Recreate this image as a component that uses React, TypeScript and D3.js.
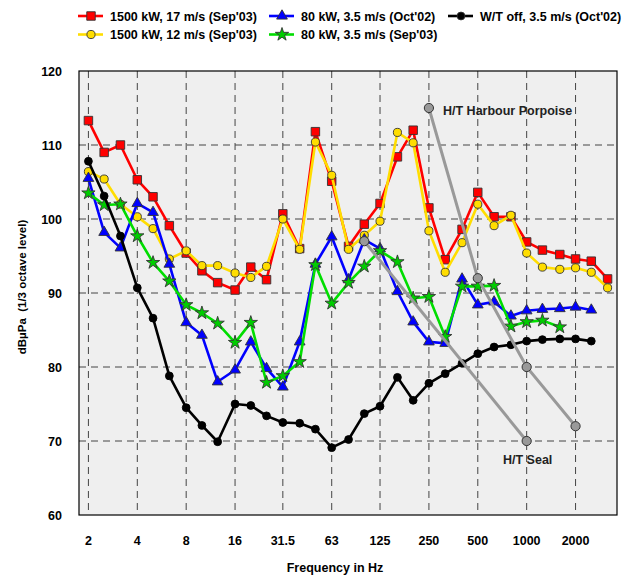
import React, { useRef, useEffect } from 'react';
import * as d3 from 'd3';

// 1/3 octave band centre frequencies (Hz)
const freqs = [2, 2.5, 3.15, 4, 5, 6.3, 8, 10, 12.5, 16, 20, 25, 31.5, 40, 50, 63, 80, 100, 125, 160, 200, 250, 315, 400, 500, 630, 800, 1000, 1250, 1600, 2000, 2500, 3150];
const tickFreqs = [2, 4, 8, 16, 31.5, 63, 125, 250, 500, 1000, 2000];
const yTicks = [60, 70, 80, 90, 100, 110, 120];

const red1500_17 = [113.3, 109.0, 110.0, 105.3, 103.0, 99.1, 95.4, 93.0, 91.4, 90.4, 93.5, 91.8, 100.7, 96.0, 111.8, 105.1, 96.3, 99.3, 102.1, 108.4, 112.0, 101.5, 94.5, 98.6, 103.6, 100.3, 100.3, 96.9, 95.8, 95.2, 94.6, 94.3, 91.9];
const yel1500_12 = [106.4, 105.4, 102.0, 100.3, 98.7, 94.6, 95.7, 93.7, 93.7, 92.7, 92.1, 93.6, 100.0, 95.9, 110.4, 105.9, 95.9, 97.8, 99.7, 111.7, 110.3, 98.4, 92.8, 96.8, 102.0, 99.1, 100.5, 95.4, 93.5, 93.2, 93.4, 92.8, 90.7];
const blue80_oct02 = [105.5, 98.2, 96.1, 102.1, 100.9, 93.9, 86.0, 84.3, 78.0, 79.6, 83.4, 79.8, 77.3, 83.4, 93.9, 97.6, 91.8, 97.2, 96.0, 90.2, 86.1, 83.4, 83.2, 91.9, 88.4, 88.8, 86.9, 87.6, 87.8, 87.9, 88.1, 87.7];
const green80_sep03 = [103.5, 101.9, 102.0, 97.7, 94.1, 91.6, 88.4, 87.3, 85.9, 83.3, 86.0, 77.9, 78.8, 80.7, 93.8, 88.6, 91.4, 93.6, 95.7, 94.2, 89.3, 89.5, 84.1, 90.9, 90.9, 91.0, 85.5, 86.1, 86.3, 85.4];
const blackOff = [107.8, 103.1, 97.7, 90.7, 86.6, 78.8, 74.5, 72.1, 69.9, 75.0, 74.8, 73.4, 72.5, 72.4, 71.6, 69.1, 70.2, 73.7, 74.7, 78.6, 75.5, 77.8, 79.1, 80.5, 81.8, 82.7, 83.0, 83.5, 83.7, 83.8, 83.8, 83.5];

const porpoiseFreqs = [250, 500, 1000, 2000];
const porpoiseVals = [115, 92, 80, 72];
const sealFreqs = [100, 1000];
const sealVals = [97, 70];

const series = [
  { name: "1500 kW, 17 m/s (Sep'03)", vals: red1500_17, color: '#ff0000', fill: '#ff0000', sym: 'square' },
  { name: "1500 kW, 12 m/s (Sep'03)", vals: yel1500_12, color: '#ffdd00', fill: '#ffdd00', sym: 'circle' },
  { name: "80 kW, 3.5 m/s (Oct'02)", vals: blue80_oct02, color: '#0000ff', fill: '#0000ff', sym: 'triangle' },
  { name: "80 kW, 3.5 m/s (Sep'03)", vals: green80_sep03, color: '#00dd00', fill: '#00cc00', sym: 'star' },
  { name: "W/T off, 3.5 m/s (Oct'02)", vals: blackOff, color: '#000000', fill: '#000000', sym: 'dot' },
];

const W = 633, H = 576;
const FONT = '"Liberation Sans", Arial, sans-serif';

const App: React.FC = () => {
  const svgRef = useRef<SVGSVGElement | null>(null);

  useEffect(() => {
    document.body.style.margin = '0';
    if (!svgRef.current) return;
    const svg = d3.select(svgRef.current);
    svg.selectAll('*').remove();

    const left = 79, right = 617, top = 71, bottom = 515;
    const x = d3.scaleLog().domain([1.75, 3600]).range([left, right]);
    const y = d3.scaleLinear().domain([60, 120]).range([bottom, top]);

    svg.append('rect').attr('width', W).attr('height', H).attr('fill', '#fff');
    svg.append('rect')
      .attr('x', left).attr('y', top).attr('width', right - left).attr('height', bottom - top)
      .attr('fill', '#efefef');

    // grid
    const grid = svg.append('g').attr('stroke', '#444').attr('stroke-width', 1).attr('stroke-dasharray', '7,5');
    grid.selectAll('.gv').data(tickFreqs).enter().append('line')
      .attr('x1', d => x(d)).attr('x2', d => x(d)).attr('y1', top).attr('y2', bottom);
    grid.selectAll('.gh').data(yTicks.slice(1, -1)).enter().append('line')
      .attr('x1', left).attr('x2', right).attr('y1', d => y(d)).attr('y2', d => y(d));

    svg.append('rect')
      .attr('x', left).attr('y', top).attr('width', right - left).attr('height', bottom - top)
      .attr('fill', 'none').attr('stroke', '#000').attr('stroke-width', 1.2);

    // axis labels
    svg.selectAll('.yl').data(yTicks).enter().append('text')
      .attr('x', 62).attr('y', d => y(d) + 4.5)
      .attr('text-anchor', 'end').attr('font-family', FONT).attr('font-weight', 'bold').attr('font-size', 12.5)
      .text(d => d);
    svg.selectAll('.xl').data(tickFreqs).enter().append('text')
      .attr('x', d => x(d)).attr('y', 545)
      .attr('text-anchor', 'middle').attr('font-family', FONT).attr('font-weight', 'bold').attr('font-size', 12.5)
      .text(d => String(d));
    svg.append('text').attr('x', 335).attr('y', 572)
      .attr('text-anchor', 'middle').attr('font-family', FONT).attr('font-weight', 'bold').attr('font-size', 12.5)
      .text('Frequency in Hz');
    svg.append('text').attr('transform', 'translate(26,287) rotate(-90)')
      .attr('text-anchor', 'middle').attr('font-family', FONT).attr('font-weight', 'bold').attr('font-size', 11.5)
      .style('white-space', 'pre')
      .text('dBµPa  (1/3 octave level)');

    const symGen = (sym: string) => {
      if (sym === 'square') return d3.symbol().type(d3.symbolSquare).size(72)();
      if (sym === 'triangle') return d3.symbol().type(d3.symbolTriangle).size(50)();
      if (sym === 'star') return d3.symbol().type(d3.symbolStar).size(55)();
      if (sym === 'circle') return d3.symbol().type(d3.symbolCircle).size(52)();
      return d3.symbol().type(d3.symbolCircle).size(48)();
    };

    const line = d3.line<number>().x((_, i) => x(freqs[i])).y(d => y(d));

    series.forEach(s => {
      const g = svg.append('g');
      g.append('path').attr('d', line(s.vals) as string)
        .attr('fill', 'none').attr('stroke', s.color).attr('stroke-width', 2.6).attr('stroke-linejoin', 'round');
      g.selectAll('path.m').data(s.vals).enter().append('path')
        .attr('class', 'm')
        .attr('d', symGen(s.sym) as string)
        .attr('transform', (d, i) => `translate(${x(freqs[i])},${y(d)})`)
        .attr('fill', s.fill)
        .attr('stroke', s.sym === 'dot' ? '#000' : '#333').attr('stroke-width', 0.9);
    });

    // hearing thresholds
    const thr = [
      { f: porpoiseFreqs, v: porpoiseVals },
      { f: sealFreqs, v: sealVals },
    ];
    thr.forEach(t => {
      const g = svg.append('g');
      const l = d3.line<number>().x((_, i) => x(t.f[i])).y(d => y(d));
      g.append('path').attr('d', l(t.v) as string)
        .attr('fill', 'none').attr('stroke', '#999').attr('stroke-width', 3);
      g.selectAll('circle').data(t.v).enter().append('circle')
        .attr('cx', (_, i) => x(t.f[i])).attr('cy', d => y(d)).attr('r', 4.6)
        .attr('fill', '#999').attr('stroke', '#333').attr('stroke-width', 1);
    });
    svg.append('text').attr('x', 443).attr('y', 115)
      .attr('font-family', FONT).attr('font-weight', 'bold').attr('font-size', 12.5).attr('fill', '#222')
      .text('H/T Harbour Porpoise');
    svg.append('text').attr('x', 503).attr('y', 464)
      .attr('font-family', FONT).attr('font-weight', 'bold').attr('font-size', 12.5).attr('fill', '#222')
      .text('H/T Seal');

    // legend
    const legendPos = [
      { x: 78, y: 16 }, { x: 78, y: 34.5 }, { x: 269, y: 16 }, { x: 269, y: 34.5 }, { x: 448, y: 16 },
    ];
    series.forEach((s, i) => {
      const p = legendPos[i];
      const g = svg.append('g').attr('transform', `translate(${p.x},${p.y})`);
      g.append('line').attr('x1', 0).attr('x2', 25).attr('y1', 0).attr('y2', 0)
        .attr('stroke', s.color).attr('stroke-width', 2.6);
      g.append('path').attr('d', symGen(s.sym) as string).attr('transform', 'translate(13,0)')
        .attr('fill', s.fill).attr('stroke', '#333').attr('stroke-width', 0.9);
      g.append('text').attr('x', 32).attr('y', 4.5)
        .attr('font-family', FONT).attr('font-weight', 'bold').attr('font-size', 12.5)
        .text(s.name);
    });
  }, []);

  return <svg ref={svgRef} width={W} height={H} style={{ display: 'block' }}></svg>;
};

export default App;
